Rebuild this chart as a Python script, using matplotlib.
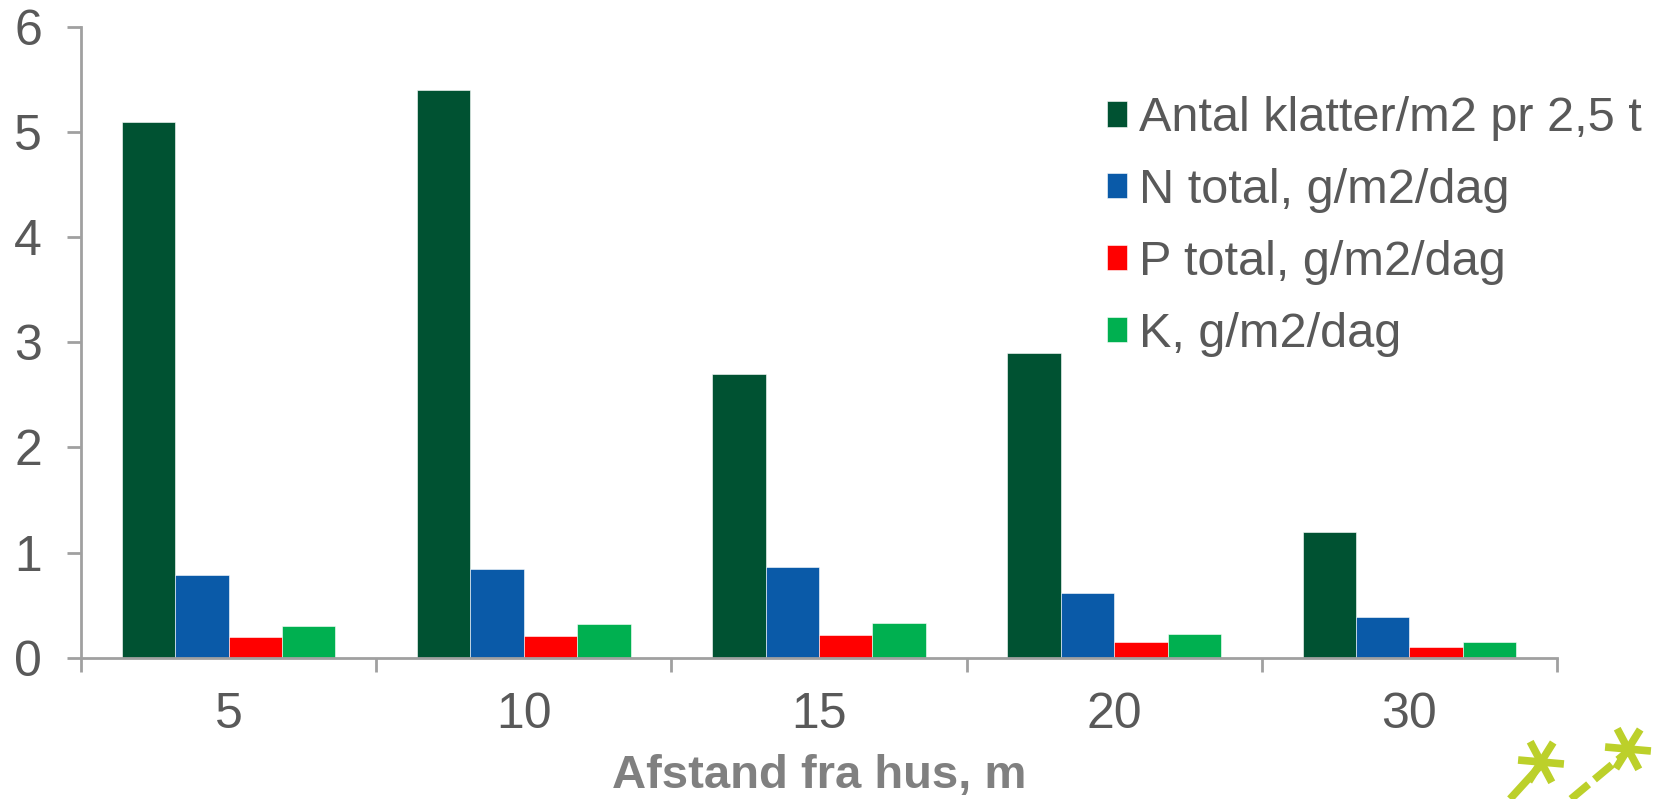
import matplotlib.pyplot as plt
import numpy as np

# data
afstand = ["5", "10", "15", "20", "30"]
klatter = [5.1, 5.4, 2.7, 2.9, 1.2]
n_total = [0.79, 0.84, 0.86, 0.62, 0.39]
p_total = [0.20, 0.21, 0.22, 0.15, 0.10]
k_total = [0.30, 0.32, 0.33, 0.23, 0.15]

series_names = ["Antal klatter/m2 pr 2,5 t", "N total, g/m2/dag",
                "P total, g/m2/dag", "K, g/m2/dag"]
series_colors = ["#005232", "#0A5AA8", "#FF0000", "#00B050"]

plt.rcParams['font.family'] = ['Liberation Sans', 'DejaVu Sans']
text_grey = "#595959"
axis_grey = "#A0A0A0"

W, H = 1658, 799
fig = plt.figure(figsize=(W / 100, H / 100), dpi=100, facecolor='white')
ax = fig.add_axes([81 / W, 1 - 657.7 / H, (1557 - 81) / W, (657.7 - 27) / H])

x = np.arange(len(afstand))
w = 0.181
for i, (vals, name, col) in enumerate(zip([klatter, n_total, p_total, k_total],
                                           series_names, series_colors)):
    ax.bar(x + (i - 1.5) * w, vals, width=w, color=col, label=name,
           edgecolor='white', linewidth=0.4)

ax.set_xlim(-0.5, len(afstand) - 0.5)
ax.set_ylim(0, 6)
ax.set_yticks(range(0, 7))
ax.set_xticks(x)
ax.set_xticklabels(afstand)
ax.set_xticks(np.arange(-0.5, len(afstand)), minor=True)

for s in ['top', 'right']:
    ax.spines[s].set_visible(False)
for s in ['left', 'bottom']:
    ax.spines[s].set_color(axis_grey)
    ax.spines[s].set_linewidth(2)

ax.tick_params(axis='y', length=10, width=2, color=axis_grey, labelsize=36,
               labelcolor=text_grey, pad=18)
ax.tick_params(axis='x', which='major', length=0, labelsize=36,
               labelcolor=text_grey, pad=25)
ax.tick_params(axis='x', which='minor', length=10, width=2, color=axis_grey)

ax.set_xlabel("Afstand fra hus, m", fontsize=34, fontweight='bold', color="#808080")
ax.xaxis.set_label_coords(0.5, -0.153)

leg = ax.legend(loc='upper left', bbox_to_anchor=(0.695, 0.89), frameon=False,
                fontsize=35, labelcolor=text_grey, handlelength=0.42,
                handleheight=0.42, handletextpad=0.25, labelspacing=0.55,
                borderaxespad=0, borderpad=0)

# small lime logo in the corner (pixel coords converted to figure fractions)
lime = "#BCD02A"
def star(cx, cy, r):
    for ang in (-5, 58, 118):
        a = np.deg2rad(ang)
        dx, dy = r * np.cos(a), r * np.sin(a)
        fig.add_artist(plt.Line2D([(cx - dx) / W, (cx + dx) / W],
                                  [1 - (cy + dy) / H, 1 - (cy - dy) / H],
                                  transform=fig.transFigure, color=lime, lw=5.5,
                                  solid_capstyle='butt'))
star(1541, 762, 23)
star(1628, 749, 23)
fig.add_artist(plt.Line2D([1510 / W, 1541 / W], [1 - 799 / H, 1 - 765 / H],
                          transform=fig.transFigure, color=lime, lw=5.5,
                          solid_capstyle='butt'))
fig.add_artist(plt.Line2D([1571 / W, 1626 / W], [1 - 799 / H, 1 - 753 / H],
                          transform=fig.transFigure, color=lime, lw=5.5,
                          linestyle=(0, (3, 1)), solid_capstyle='butt'))

fig.savefig("out.png", dpi=100, facecolor='white')
